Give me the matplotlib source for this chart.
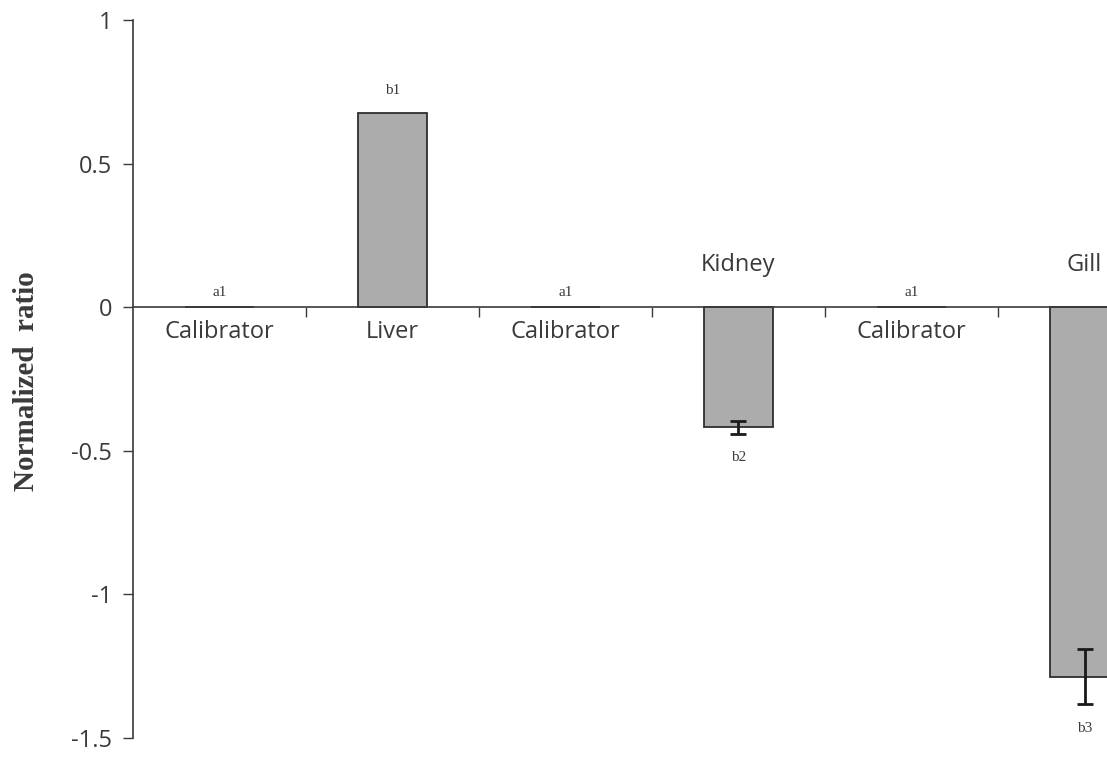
import matplotlib.pyplot as plt
import numpy as np

# data
categories = ["Calibrator", "Liver", "Calibrator", "Kidney", "Calibrator", "Gill"]
values = [0.0, 0.676, 0.0, -0.418, 0.0, -1.286]
errors = [0.0, 0.0, 0.0, 0.022, 0.0, 0.097]
sig_labels = ["a1", "b1", "a1", "b2", "a1", "b3"]
yticks = [1, 0.5, 0, -0.5, -1, -1.5]
ytick_labels = ["1", "0.5", "0", "-0.5", "-1", "-1.5"]

fig = plt.figure(figsize=(11.07, 7.62), dpi=100)
ax = fig.add_axes([0.1201, 0.0315, 0.8799, 0.9423])

x = np.arange(len(categories))

ax.bar(x, values, width=0.4, color="#acacac", edgecolor="#2e2e2e", linewidth=1.3, zorder=2)
for xi, v, e in zip(x, values, errors):
    if e > 0:
        ax.errorbar(xi, v, yerr=e, fmt="none", ecolor="#1a1a1a", elinewidth=2,
                    capsize=6, capthick=2, zorder=3)

ax.set_xlim(-0.5, 5.13)
ax.set_ylim(-1.5, 1)

# spines: left axis plus zero line carrying category ticks
ax.spines["top"].set_visible(False)
ax.spines["right"].set_visible(False)
ax.spines["bottom"].set_position(("data", 0))
ax.spines["left"].set_color("#3a3a3a")
ax.spines["bottom"].set_color("#3a3a3a")
ax.spines["left"].set_linewidth(1.2)
ax.spines["bottom"].set_linewidth(1.2)

ax.set_xticks(np.arange(0.5, len(categories) - 0.5, 1))
ax.set_xticklabels([])
ax.tick_params(axis="x", direction="out", length=7, width=1, color="#3a3a3a")

ax.set_yticks(yticks)
ax.set_yticklabels(ytick_labels, fontsize=17, color="#3a3a3a", family="Open Sans")
ax.tick_params(axis="y", direction="out", length=7, width=1, color="#3a3a3a", pad=8)

# category names and significance letters
for xi, v, e, name, sig in zip(x, values, errors, categories, sig_labels):
    if v < 0:
        ax.text(xi, 0.146, name, ha="center", va="center", fontsize=17,
                color="#3a3a3a", family="Open Sans")
        ax.text(xi, v - e - 0.085, sig, ha="center", va="center", fontsize=11,
                color="#3a3a3a", family="Liberation Serif")
    else:
        ax.text(xi, -0.085, name, ha="center", va="center", fontsize=17,
                color="#3a3a3a", family="Open Sans")
        ax.text(xi, v + 0.05 if v == 0 else v + 0.08, sig, ha="center", va="center",
                fontsize=11, color="#3a3a3a", family="Liberation Serif")

fig.text(0.024, 0.50, "Normalized  ratio", rotation=90, ha="center", va="center",
         fontsize=21, fontweight="bold", family="Liberation Serif", color="#3a3a3a")

plt.savefig("out.png", dpi=100)
plt.close()
